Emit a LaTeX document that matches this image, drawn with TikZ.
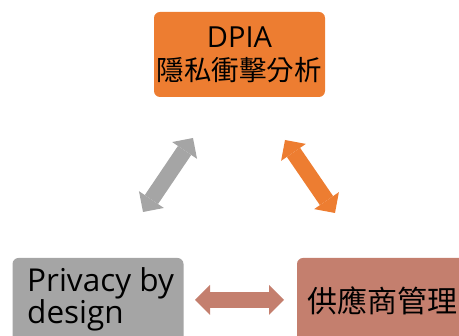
\documentclass[tikz,border=0pt]{standalone}
\usepackage{fontspec}
\setmainfont{Open Sans}
\newfontfamily\cjk{Noto Sans CJK TC}
\usetikzlibrary{arrows.meta}
\definecolor{dpiaorange}{RGB}{237,125,49}
\definecolor{pbdgray}{RGB}{165,165,165}
\definecolor{vendorbrown}{RGB}{196,127,110}
\tikzset{
  box/.style={rounded corners=6pt, minimum width=171pt, minimum height=85pt, inner sep=0pt, text=black},
  blockarrow/.style={line width=16pt, {Triangle[length=15pt,width=30pt,line width=0pt]}-{Triangle[length=15pt,width=30pt,line width=0pt]}}
}
\begin{document}
\begin{tikzpicture}[x=1pt,y=-1pt]
\useasboundingbox (0,0) rectangle (459,336);
\clip (0,0) rectangle (459,336);
\node[box, fill=dpiaorange, align=center, font=\fontsize{29}{33}\selectfont] (dpia) at (239.5,54.5)
  {DPIA\\{\cjk\fontsize{27.5}{33}\selectfont 隱私衝擊分析}};
\node[box, fill=pbdgray] (pbd) at (98,300.5) {};
\node[inner sep=0pt, anchor=base west, align=left, font=\fontsize{31.5}{29.5}\selectfont] (pbdtext) at (27,324)
  {Privacy by\\design};
\node[box, fill=vendorbrown, font=\cjk\fontsize{30}{30}\selectfont] (vendor) at (382.5,300.5)
  {供應商管理};
\coordinate (ga) at (193,138);
\coordinate (gb) at (143,212);
\coordinate (oa) at (285,140);
\coordinate (ob) at (335,213);
\coordinate (ha) at (195,300);
\coordinate (hb) at (284,300);
\draw[blockarrow, pbdgray] (ga) -- (gb);
\draw[blockarrow, dpiaorange] (oa) -- (ob);
\draw[blockarrow, vendorbrown] (ha) -- (hb);
\end{tikzpicture}
\end{document}
